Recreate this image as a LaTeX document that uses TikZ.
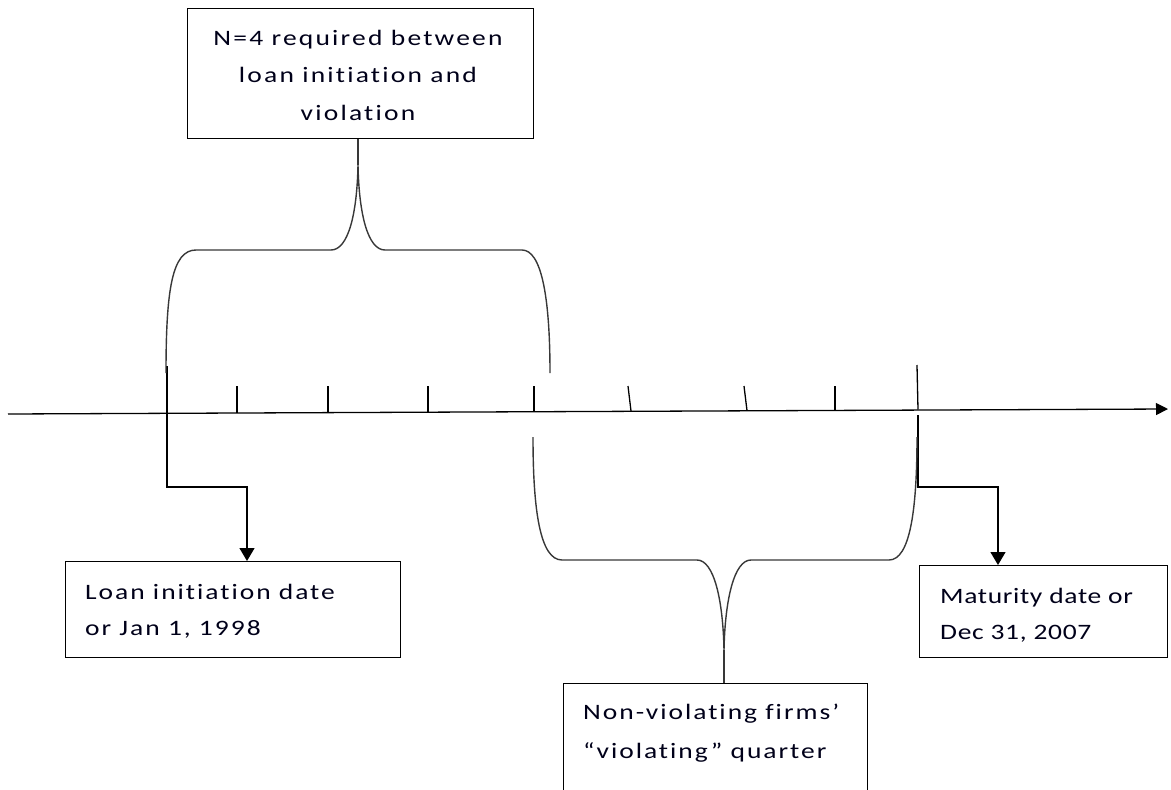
\documentclass[tikz,border=0pt]{standalone}
\usepackage{fontspec}
\setmainfont{Carlito}
\newfontfamily\tfA{Carlito}[FakeStretch=1.25,LetterSpace=9,Ligatures={NoCommon}]
\newfontfamily\tfT{Carlito}[FakeStretch=1.25,LetterSpace=10,Ligatures={NoCommon}]
\newfontfamily\tfB{Carlito}[FakeStretch=1.25,LetterSpace=3,Ligatures={NoCommon}]
\usetikzlibrary{arrows.meta,calc}
\begin{document}
\begin{tikzpicture}[x=1pt,y=-1pt,
  ln/.style={line width=1.3pt, draw=black},
  brace/.style={line width=1.4pt, draw=black!78},
  box/.style={draw=black, line width=1.3pt, inner sep=0pt, anchor=north west},
  txt/.style={inner sep=0pt, anchor=north west, text=black!90!blue,
    font=\tfA\fontsize{22}{36}\selectfont},
  tip/.style={-{Triangle[width=15pt,length=13pt]}}]
\useasboundingbox (0,0) rectangle (1171,790);
\clip (0,0) rectangle (1171,790);
% boxes
\node[box, minimum width=346pt, minimum height=130pt] (topbox) at (187,8) {};
\node[box, minimum width=335pt, minimum height=96pt] (lbox) at (65,561) {};
\node[box, minimum width=248pt, minimum height=92pt] (rbox) at (919,565) {};
\node[box, minimum width=304pt, minimum height=150pt] (bbox) at (563,683) {};
% texts
\node[txt, align=center, anchor=north, font=\tfT\fontsize{22}{37.5}\selectfont] (toptext) at (358,30) {N=4 required between\\loan initiation and\\violation};
\node[txt, align=left] (ltext) at (85,584) {Loan initiation date\\or Jan 1, 1998};
\node[txt, align=left, font=\tfB\fontsize{22}{36}\selectfont] (rtext) at (940,588) {Maturity date or\\Dec 31, 2007};
\node[txt, align=left, font=\tfA\fontsize{22}{39}\selectfont] (btext) at (583,704) {Non-violating firms’\\“violating” quarter};
% timeline
\coordinate (axL) at (8,414);
\coordinate (axR) at (1168,409);
\draw[ln, -{Triangle[width=12pt,length=12pt]}] (axL) -- (axR);
\foreach \x/\yb in {237/413,328/412.6,428/412.2,534/411.7,835/410.4}
  \draw[ln] (\x,386) -- (\x,\yb);
\draw[ln] (628,386) -- (631,411);
\draw[ln] (744,386) -- (747,410.5);
\draw[ln] (917,365) -- (918,409.5);
% connectors to date boxes
\coordinate (s0) at (167,366);
\coordinate (e0) at (247,487);
\draw[ln, tip] (s0) |- (e0) -- (e0 |- lbox.north);
\coordinate (s1) at (918,415);
\coordinate (e1) at (998,487);
\draw[ln, tip] (s1) |- (e1) -- (e1 |- rbox.north);
% top brace
\coordinate (tb) at (358,165);
\draw[brace] (166,373) .. controls (166,290) and (172,250) .. (196,250)
  -- (331,250) .. controls (348,250) and (357,215) .. (tb)
  .. controls (359,215) and (368,250) .. (385,250)
  -- (522,250) .. controls (541,250) and (550,295) .. (550,373);
\draw[brace] (tb) -- (tb |- topbox.south);
% bottom brace
\coordinate (bb) at (724,650);
\draw[brace] (533,437) .. controls (533,510) and (540,560) .. (562,560)
  -- (697,560) .. controls (714,560) and (723,600) .. (bb)
  .. controls (725,600) and (734,560) .. (751,560)
  -- (889,560) .. controls (910,560) and (917,510) .. (917,437);
\draw[brace] (bb) -- (bb |- bbox.north);
\end{tikzpicture}
\end{document}
